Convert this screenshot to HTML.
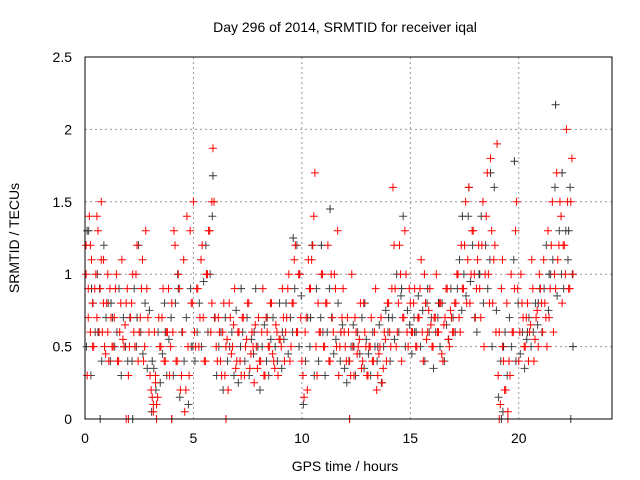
<!DOCTYPE html>
<html><head><meta charset="utf-8"><style>
body{margin:0;background:#fff}
svg{display:block;font-family:"Liberation Sans",sans-serif}
</style></head><body>
<svg id="chart" width="640" height="480" viewBox="0 0 640 480">
<text x="345" y="32" font-size="14" text-anchor="middle">Day 296 of 2014, SRMTID for receiver iqal</text>
<text x="345" y="471" font-size="14" text-anchor="middle">GPS time / hours</text>
<text x="0" y="0" font-size="14" text-anchor="middle" transform="translate(19,238) rotate(-90)">SRMTID / TECUs</text>
<g id="grid"></g>
<g id="ticks"></g>
<g id="marks"></g>
<rect x="85" y="57" width="527" height="362" fill="none" stroke="#000" stroke-width="1"/>
</svg>
<script>
const xTicks=[0,5,10,15,20];
const yTicks=[0,0.5,1,1.5,2,2.5];
const yTickLabels=["0","0.5","1","1.5","2","2.5"];
const blackT=[0.1,0.3,0.6,1.2,1.8,2.4,3.1,3.7,4.3,4.9,5.6,5.9,6.5,7.2,7.8,8.4,9.1,9.6,9.9,10.4,10.9,11.3,11.8,12.4,12.9,13.5,14.0,14.6,15.2,15.8,16.3,16.9,17.4,17.7,18.2,18.7,19.3,19.8,20.4,20.9,21.4,21.7,22.0,22.3,22.5,0.7,2.2,4.0,6.5,12.2,19.2,22.4];
const blackV=[1.3,0.9,0.6,0.8,0.5,0.7,0.4,0.6,0.9,0.5,1.0,1.68,0.5,0.9,0.6,0.7,0.6,1.25,1.0,0.7,1.2,1.45,0.6,0.5,0.8,0.5,0.7,0.9,0.6,0.9,0.8,0.7,1.4,1.6,1.0,1.7,0.5,1.78,0.6,0.8,1.0,2.17,1.7,1.3,0.5,0,0,0,0,0,0,0];
const redT=[0.05,0.1,0.15,0.2,0.25,0.3,0.35,0.4,0.5,0.55,0.6,0.7,0.75,0.8,0.85,0.9,1.0,1.05,1.1,1.2,1.3,1.4,1.5,1.6,1.7,1.8,1.9,2.0,2.1,2.2,2.3,2.4,2.5,2.6,2.7,2.8,2.9,3.0,3.1,3.15,3.2,3.25,3.3,3.4,3.5,3.6,3.7,3.8,3.9,4.0,4.1,4.2,4.3,4.4,4.5,4.6,4.7,4.8,4.9,5.0,5.1,5.2,5.3,5.4,5.5,5.6,5.7,5.8,5.85,5.9,6.0,6.1,6.2,6.3,6.4,6.5,6.6,6.7,6.8,6.9,7.0,7.1,7.2,7.3,7.4,7.5,7.6,7.7,7.8,7.9,8.0,8.1,8.2,8.3,8.4,8.5,8.6,8.7,8.8,8.9,9.0,9.1,9.2,9.3,9.4,9.5,9.6,9.7,9.8,9.9,10.0,10.1,10.2,10.3,10.4,10.5,10.6,10.7,10.8,10.9,11.0,11.1,11.2,11.3,11.4,11.5,11.6,11.7,11.8,11.9,12.0,12.1,12.2,12.3,12.4,12.5,12.6,12.7,12.8,12.9,13.0,13.1,13.2,13.3,13.4,13.5,13.6,13.7,13.8,13.9,14.0,14.1,14.2,14.3,14.4,14.5,14.6,14.7,14.8,14.9,15.0,15.1,15.2,15.3,15.4,15.5,15.6,15.7,15.8,15.9,16.0,16.1,16.2,16.3,16.4,16.5,16.6,16.7,16.8,16.9,17.0,17.1,17.2,17.3,17.4,17.5,17.6,17.7,17.8,17.9,18.0,18.1,18.2,18.3,18.4,18.5,18.6,18.7,18.8,18.9,19.0,19.1,19.2,19.25,19.3,19.4,19.5,19.6,19.7,19.8,19.9,20.0,20.1,20.2,20.3,20.4,20.5,20.6,20.7,20.8,20.9,21.0,21.1,21.2,21.3,21.4,21.5,21.6,21.7,21.8,21.9,22.0,22.1,22.2,22.3,22.4,22.5,1.9,2.0,3.3,4.0,6.5,12.2,19.1,19.5];
const redV=[1.2,0.3,0.9,1.4,0.6,1.1,0.8,0.5,1.0,0.7,1.3,0.9,1.5,0.6,1.1,0.5,0.8,1.0,0.4,0.7,0.5,0.9,0.4,0.6,1.1,0.5,0.8,0.3,0.7,1.0,0.5,1.2,0.6,0.9,0.4,1.3,0.7,0.3,0.15,0.05,0.6,0.25,0.1,0.7,0.5,0.9,0.4,0.6,0.3,0.8,1.3,0.4,1.0,0.2,0.6,0.05,1.4,0.3,0.8,1.5,0.5,0.9,0.7,1.2,0.4,1.0,1.3,0.6,1.5,1.87,0.7,0.4,0.6,0.3,0.8,0.5,0.2,0.7,0.5,0.9,0.4,0.6,0.3,0.7,0.5,0.8,0.35,0.6,0.25,0.5,0.7,0.4,0.9,0.3,0.6,0.5,0.8,0.4,0.65,0.3,0.55,0.9,0.4,0.7,1.0,0.5,0.8,1.2,0.6,1.0,0.4,0.15,0.7,1.1,0.9,1.2,1.7,0.3,0.6,1.0,0.5,0.8,1.2,0.4,0.7,1.0,0.5,0.3,0.6,0.9,0.5,0.7,0.4,1.0,0.3,0.6,0.5,0.8,0.4,0.6,0.3,0.5,0.7,0.4,0.9,0.3,0.5,0.25,0.6,0.4,0.8,0.5,1.6,0.9,0.6,1.2,0.4,0.7,1.0,0.5,0.8,0.6,0.9,0.5,0.7,1.1,0.4,0.8,0.6,0.9,0.5,0.7,1.0,0.6,0.8,0.4,0.7,0.9,0.5,0.7,0.6,0.8,1.0,0.6,0.9,1.2,0.8,1.6,1.0,1.3,0.7,1.1,0.9,1.2,0.5,1.4,1.0,1.8,0.8,1.2,1.9,0.6,0.9,1.1,0.4,0.2,0.05,0.3,0.6,0.9,1.5,0.4,1.0,0.7,0.5,0.8,0.6,1.1,0.4,0.7,0.5,0.9,0.6,0.8,0.5,0.7,1.2,0.6,0.9,1.1,1.5,0.8,1.2,2.0,0.9,1.5,1.0,0,0,0,0,0,0,0,0];
const denseT=[0.05,0.15,0.25,0.35,0.45,0.55,0.65,0.75,0.85,0.95,1.05,1.15,1.25,1.35,1.45,1.55,1.65,1.75,1.85,1.95,2.05,2.15,2.25,2.35,2.45,2.55,2.65,2.75,2.85,2.95,3.05,3.15,3.25,3.35,3.45,3.55,3.65,3.75,3.85,3.95,4.05,4.15,4.25,4.35,4.45,4.55,4.65,4.75,4.85,4.95,5.05,5.15,5.25,5.35,5.45,5.55,5.65,5.75,5.85,5.95,6.05,6.15,6.25,6.35,6.45,6.55,6.65,6.75,6.85,6.95,7.05,7.15,7.25,7.35,7.45,7.55,7.65,7.75,7.85,7.95,8.05,8.15,8.25,8.35,8.45,8.55,8.65,8.75,8.85,8.95,9.05,9.15,9.25,9.35,9.45,9.55,9.65,9.75,9.85,9.95,10.05,10.15,10.25,10.35,10.45,10.55,10.65,10.75,10.85,10.95,11.05,11.15,11.25,11.35,11.45,11.55,11.65,11.75,11.85,11.95,12.05,12.15,12.25,12.35,12.45,12.55,12.65,12.75,12.85,12.95,13.05,13.15,13.25,13.35,13.45,13.55,13.65,13.75,13.85,13.95,14.05,14.15,14.25,14.35,14.45,14.55,14.65,14.75,14.85,14.95,15.05,15.15,15.25,15.35,15.45,15.55,15.65,15.75,15.85,15.95,16.05,16.15,16.25,16.35,16.45,16.55,16.65,16.75,16.85,16.95,17.05,17.15,17.25,17.35,17.45,17.55,17.65,17.75,17.85,17.95,18.05,18.15,18.25,18.35,18.45,18.55,18.65,18.75,18.85,18.95,19.05,19.15,19.25,19.35,19.45,19.55,19.65,19.75,19.85,19.95,20.05,20.15,20.25,20.35,20.45,20.55,20.65,20.75,20.85,20.95,21.05,21.15,21.25,21.35,21.45,21.55,21.65,21.75,21.85,21.95,22.05,22.15,22.25,22.35,22.45];
const denseA=[1.0,0.7,1.2,0.5,0.9,1.4,0.6,1.1,0.8,0.45, 0.6,0.9,0.5,0.7,1.0,0.4,0.8,0.55,0.65,0.9, 0.5,0.8,0.6,1.0,0.4,0.7,1.1,0.5,0.9,0.6, 0.2,0.1,0.3,0.15,0.5,0.7,0.4,0.6,0.9,0.5, 0.6,1.2,0.4,0.9,0.3,1.1,0.2,0.5,1.3,0.8, 0.6,0.9,0.5,1.1,0.7,0.4,1.0,1.3,0.8,1.5, 0.5,0.7,0.4,0.6,0.3,0.55,0.8,0.45,0.65,0.35, 0.6,0.4,0.7,0.3,0.55,0.8,0.45,0.5,0.65,0.35, 0.4,0.6,0.3,0.7,0.5,0.8,0.45,0.35,0.6,0.55, 0.5,0.7,0.6,0.9,0.4,0.8,1.1,0.6,1.0,0.7, 0.3,0.6,0.2,0.9,1.1,1.4,0.5,0.8,0.6,1.0, 0.5,0.8,0.4,1.0,0.6,0.9,1.3,0.5,0.7,0.6, 0.4,0.6,0.3,0.5,0.7,0.45,0.55,0.35,0.8,0.5, 0.3,0.5,0.4,0.6,0.2,0.45,0.7,0.35,0.55,0.8, 0.6,0.9,1.2,0.5,0.8,1.0,0.7,1.3,0.6,0.9, 0.6,0.8,0.5,0.7,0.9,0.6,1.0,0.55,0.75,0.65, 0.5,0.7,0.6,0.8,0.45,0.65,0.9,0.55,0.75,0.6, 0.8,1.0,0.7,1.2,0.9,1.5,1.1,0.8,1.3,1.0, 0.9,1.2,0.7,1.5,1.0,1.7,0.8,1.3,1.1,0.6, 0.3,0.1,0.5,0.2,0.8,0.4,1.0,0.6,1.3,0.9, 0.6,0.8,0.5,0.7,0.4,0.65,0.9,0.55,0.75,1.0, 0.8,1.1,0.7,1.3,0.9,1.5,1.0,1.7,1.2,1.4, 1.2,1.0,1.5,0.9,1.8];
const denseB=[0.5,1.3,0.3,0.8,0.6,1.0,0.9,0.4,1.2,0.7, 0.8,0.4,0.7,0.5,0.6,0.9,0.3,0.7,0.5,0.4, 0.7,0.4,0.9,0.5,1.2,0.6,0.45,0.8,0.35,0.75, 0.05,0.35,0.2,0.6,0.25,0.45,0.8,0.3,0.55,0.7, 0.3,0.8,1.0,0.15,0.6,0.4,0.7,0.1,0.9,0.5, 0.4,0.6,0.8,0.5,0.95,1.2,0.6,1.0,1.4,0.7, 0.3,0.5,0.6,0.2,0.7,0.4,0.5,0.6,0.3,0.75, 0.25,0.5,0.6,0.4,0.7,0.3,0.55,0.45,0.9,0.5, 0.2,0.5,0.65,0.4,0.3,0.55,0.7,0.5,0.4,0.8, 0.35,0.55,0.8,0.45,0.7,0.6,0.9,1.2,0.5,0.85, 0.1,0.4,0.7,0.5,1.2,0.3,0.9,0.4,0.7,0.6, 0.3,0.6,0.9,0.7,0.45,0.55,0.8,0.4,0.65,0.35, 0.25,0.4,0.5,0.65,0.3,0.6,0.45,0.7,0.35,0.55, 0.45,0.3,0.6,0.5,0.4,0.65,0.25,0.5,0.75,0.6, 0.4,0.7,0.55,1.0,0.6,0.85,1.4,0.5,0.75,0.65, 0.45,0.7,0.6,0.85,0.5,0.75,0.4,0.8,0.6,0.7, 0.35,0.6,0.7,0.5,0.8,0.4,0.65,0.55,0.9,0.7, 0.6,0.9,1.1,0.75,1.0,0.85,1.4,0.95,1.2,0.7, 0.6,1.0,1.4,0.8,1.2,0.9,1.1,0.5,1.6,0.75, 0.15,0.4,0.05,0.6,0.3,0.7,0.5,1.1,0.4,0.8, 0.45,0.6,0.35,0.55,0.7,0.5,0.6,0.8,0.65,0.9, 0.6,0.9,1.2,0.75,1.0,1.1,1.6,0.85,1.3,1.0, 0.9,1.3,1.1,1.6,1.0];
const X0=85,X1=612,Y0=419,Y1=57,XMAX=24.3,YMAX=2.5;
const xs=t=>X0+(X1-X0)*t/XMAX;
const ys=v=>Y0-(Y0-Y1)*v/YMAX;
const NS="http://www.w3.org/2000/svg";
const grid=document.getElementById('grid'),ticks=document.getElementById('ticks'),marks=document.getElementById('marks');
function mk(tag,attrs,parent){const e=document.createElementNS(NS,tag);for(const k in attrs)e.setAttribute(k,attrs[k]);parent.appendChild(e);return e;}
xTicks.forEach(t=>{const x=xs(t);
 if(t>0){const g=mk('line',{x1:x,x2:x,y1:Y1,y2:Y0,stroke:'#999','stroke-dasharray':'2,3'},grid);
 
 }
 const l=mk('text',{x:x,y:443,'font-size':14,'text-anchor':'middle',fill:'#000'},ticks);l.textContent=String(t);
 
 
});
yTicks.forEach((v,i)=>{const y=ys(v);
 if(v>0&&v<YMAX){const g=mk('line',{x1:X0,x2:X1,y1:y,y2:y,stroke:'#999','stroke-dasharray':'2,3'},grid);
 
 }
 const l=mk('text',{x:72,y:y+5,'font-size':14,'text-anchor':'end',fill:'#000'},ticks);l.textContent=yTickLabels[i];
 
 
});
function plus(t,v,c,name){if(t===undefined||v===undefined)return;const x=xs(t),y=ys(v);
 const p=mk('path',{d:`M${x-4},${y}h8M${x},${y-4}v8`,stroke:c,'stroke-width':1,fill:'none'},marks);
 
 }
blackT.forEach((t,i)=>plus(t,blackV[i],'#333','black-point'));
denseT.forEach((t,i)=>plus(t+0.02,denseB[i],'#444','black-point'));
redT.forEach((t,i)=>plus(t,redV[i],'#f00','red-point'));
denseT.forEach((t,i)=>plus(t,denseA[i],'#f00','red-point'));
</script>
</body></html>
